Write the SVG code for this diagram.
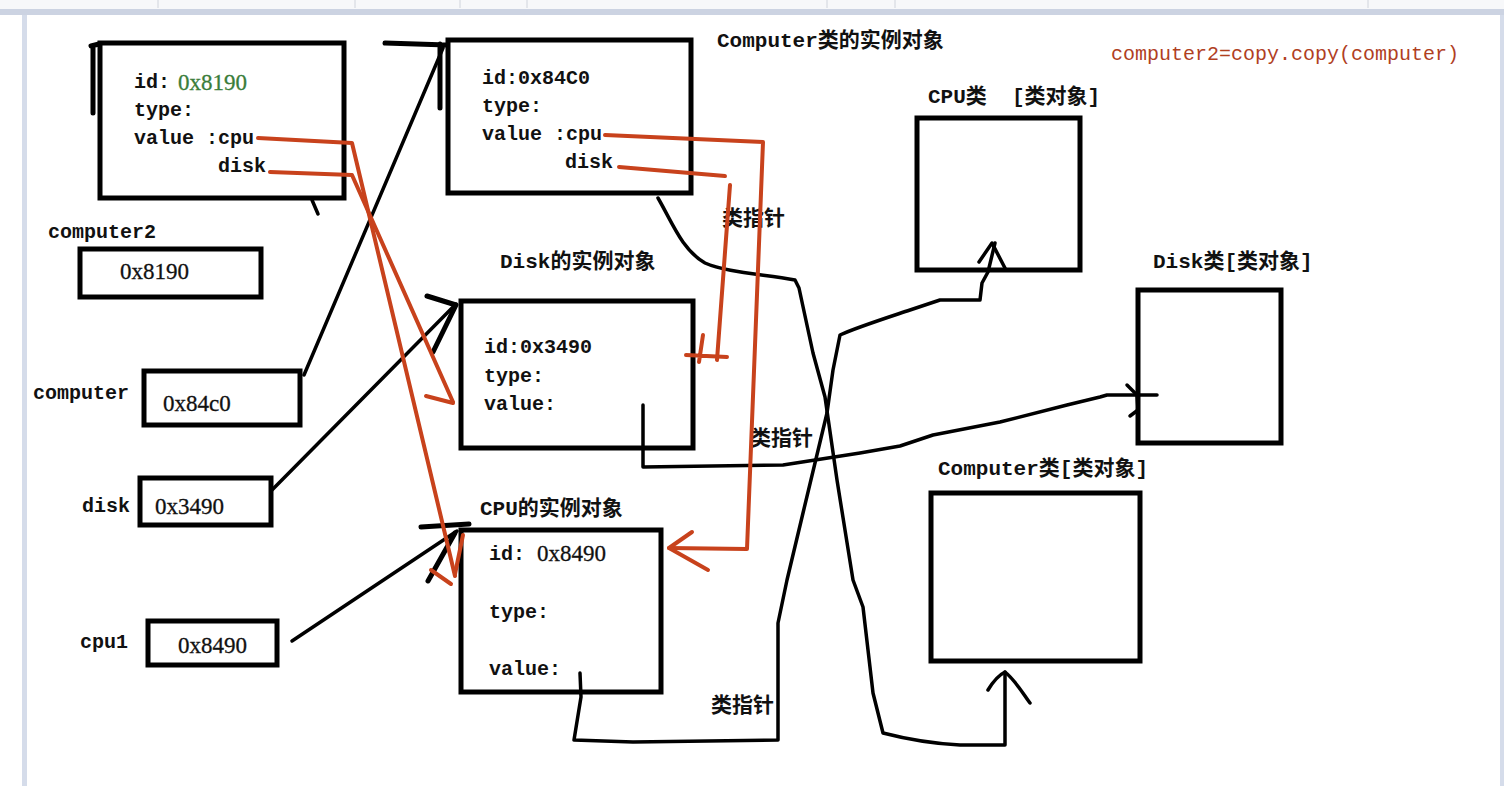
<svg xmlns="http://www.w3.org/2000/svg" width="1504" height="786" viewBox="0 0 1504 786">
<style>
.box{fill:#fff;stroke:#000;stroke-width:5}
.mono{font-family:"Liberation Mono","Noto Sans CJK SC",monospace;font-weight:bold;font-size:20px;fill:#111}
.lbl{font-family:"Liberation Mono","Noto Sans CJK SC",monospace;font-weight:bold;font-size:21px;fill:#111}
.addr{font-family:"Liberation Serif","Noto Sans CJK SC",serif;font-size:23px;fill:#111;stroke:#111;stroke-width:0.3}
.blk{fill:none;stroke:#000;stroke-width:3.5;stroke-linecap:round;stroke-linejoin:round}
.blkT{fill:none;stroke:#000;stroke-width:5;stroke-linecap:round;stroke-linejoin:round}
.red{fill:none;stroke:#c8421c;stroke-width:4;stroke-linecap:round;stroke-linejoin:round}
</style>
<rect x="0" y="0" width="1504" height="786" fill="#fff"/>
<rect x="0" y="0" width="1504" height="9" fill="#f7f8fa"/>
<rect x="0" y="9" width="1504" height="6" fill="#ccd3e2"/>
<rect x="22" y="15" width="5" height="771" fill="#d5dcea"/>
<rect x="1500" y="15" width="4" height="771" fill="#d5dcea"/>
<g stroke="#d0d4dc" stroke-width="1">
<line x1="158" y1="0" x2="158" y2="8"/><line x1="355" y1="0" x2="355" y2="8"/><line x1="460" y1="0" x2="460" y2="8"/><line x1="527" y1="0" x2="527" y2="8"/><line x1="827" y1="0" x2="827" y2="8"/><line x1="895" y1="0" x2="895" y2="8"/><line x1="1368" y1="0" x2="1368" y2="8"/>
</g>

<g id="computer2-obj">
<rect class="box" x="100" y="43" width="244" height="155"/>
<text class="mono" x="134" y="88">id:</text>
<text class="addr" x="178" y="90" style="fill:#3a7d3a;stroke:#3a7d3a">0x8190</text>
<text class="mono" x="134" y="116">type:</text>
<text class="mono" x="134" y="144">value :cpu</text>
<text class="mono" x="218" y="172">disk</text>
</g>

<g id="computer-obj">
<rect class="box" x="448" y="40" width="243" height="153"/>
<text class="mono" x="482" y="84">id:0x84C0</text>
<text class="mono" x="482" y="112">type:</text>
<text class="mono" x="482" y="140">value :cpu</text>
<text class="mono" x="565" y="168">disk</text>
<text class="lbl" x="717" y="47">Computer类的实例对象</text>
</g>

<g id="disk-obj">
<rect class="box" x="461" y="301" width="232" height="147"/>
<text class="lbl" x="500" y="268">Disk的实例对象</text>
<text class="mono" x="484" y="353">id:0x3490</text>
<text class="mono" x="484" y="382">type:</text>
<text class="mono" x="484" y="410">value:</text>
</g>

<g id="cpu-obj">
<rect class="box" x="461" y="530" width="200" height="162"/>
<text class="lbl" x="480" y="515">CPU的实例对象</text>
<text class="mono" x="489" y="560">id:</text>
<text class="addr" x="537" y="561">0x8490</text>
<text class="mono" x="489" y="618">type:</text>
<text class="mono" x="489" y="675">value:</text>
</g>

<g id="cpu-class">
<rect class="box" x="917" y="118" width="163" height="152"/>
<text class="lbl" x="928" y="103" xml:space="preserve">CPU类  [类对象]</text>
</g>

<g id="disk-class">
<rect class="box" x="1138" y="290" width="143" height="153"/>
<text class="lbl" x="1153" y="268">Disk类[类对象]</text>
</g>

<g id="computer-class">
<rect class="box" x="931" y="493" width="209" height="168"/>
<text class="lbl" x="938" y="475">Computer类[类对象]</text>
</g>

<g id="var-computer2">
<text class="mono" x="48" y="238">computer2</text>
<rect class="box" x="80" y="249" width="181" height="48"/>
<text class="addr" x="120" y="279">0x8190</text>
</g>

<g id="var-computer">
<text class="mono" x="33" y="399">computer</text>
<rect class="box" x="144" y="371" width="156" height="54"/>
<text class="addr" x="163" y="411">0x84c0</text>
</g>

<g id="var-disk">
<text class="mono" x="82" y="512">disk</text>
<rect class="box" x="140" y="478" width="131" height="47"/>
<text class="addr" x="155" y="514">0x3490</text>
</g>

<g id="var-cpu1">
<text class="mono" x="80" y="648">cpu1</text>
<rect class="box" x="148" y="621" width="129" height="44"/>
<text class="addr" x="178" y="653">0x8490</text>
</g>

<g id="title">
<text x="1111" y="60" style="font-family:'Liberation Mono',monospace;font-size:20px;fill:#b0401f">computer2=copy.copy(computer)</text>
</g>

<g id="labels">
<text class="lbl" x="722" y="225">类指针</text>
<text class="lbl" x="750" y="445">类指针</text>
<text class="lbl" x="711" y="712">类指针</text>
</g>

<g id="connectors">
<path class="blkT" d="M93 113 L93 46 M91 46 L99 44"/>
<path class="blk" d="M312 200 L318 214"/>
<path class="blk" d="M304 375 L443 48"/>
<path class="blkT" d="M440 108 L440 44 M385 43 L447 45"/>
<path class="blk" d="M272 490 L456 304"/>
<path class="blkT" d="M427 296 L456 305 L433 352"/>
<path class="blk" d="M292 641 L457 531"/>
<path class="blkT" d="M421 527 L469 524 M428 581 L455 533"/>
<path class="blk" d="M658 198 C672 222 682 250 705 263 C725 272 760 274 795 280 L799 288 L813 353 L825 397 L837 480 L853 580 L863 607 L873 693 L883 733 C910 740 940 744 960 745 L1005 745 L1005 672"/>
<path class="blk" d="M988 690 C994 680 999 675 1005 672 C1015 680 1022 692 1030 703"/>
<path class="blk" d="M580 673 L581 697 L574 740 L633 742 L778 740 L778 623 L787 580 L803 513 L827 413 L833 370 L840 335 C855 328 880 320 910 310 L940 300 L980 300 L982 283 L988 272 L995 243"/>
<path class="blk" d="M979 262 L992 243 L1006 270"/>
<path class="blk" d="M643 405 L643 467 L783 465 L860 453 L900 446 L933 435 L1000 422 L1067 405 L1100 397 L1107 395 L1157 395"/>
<path class="blk" d="M1127 385 L1137 395 L1138 410 L1130 416"/>
<path class="red" d="M258 138 L352 143 L455 576"/>
<path class="red" d="M463 535 L455 574 M431 570 L451 584"/>
<path class="red" d="M270 172 L352 175 L453 402"/>
<path class="red" d="M426 396 L453 403"/>
<path class="red" d="M605 135 L763 142 L747 549 L669 548"/>
<path class="red" d="M692 532 L669 548 L708 570"/>
<path class="red" d="M619 167 L725 176"/>
<path class="red" d="M730 185 L717 360"/>
<path class="red" d="M686 355 L727 357 M703 335 L699 362"/>
</g>
</svg>
